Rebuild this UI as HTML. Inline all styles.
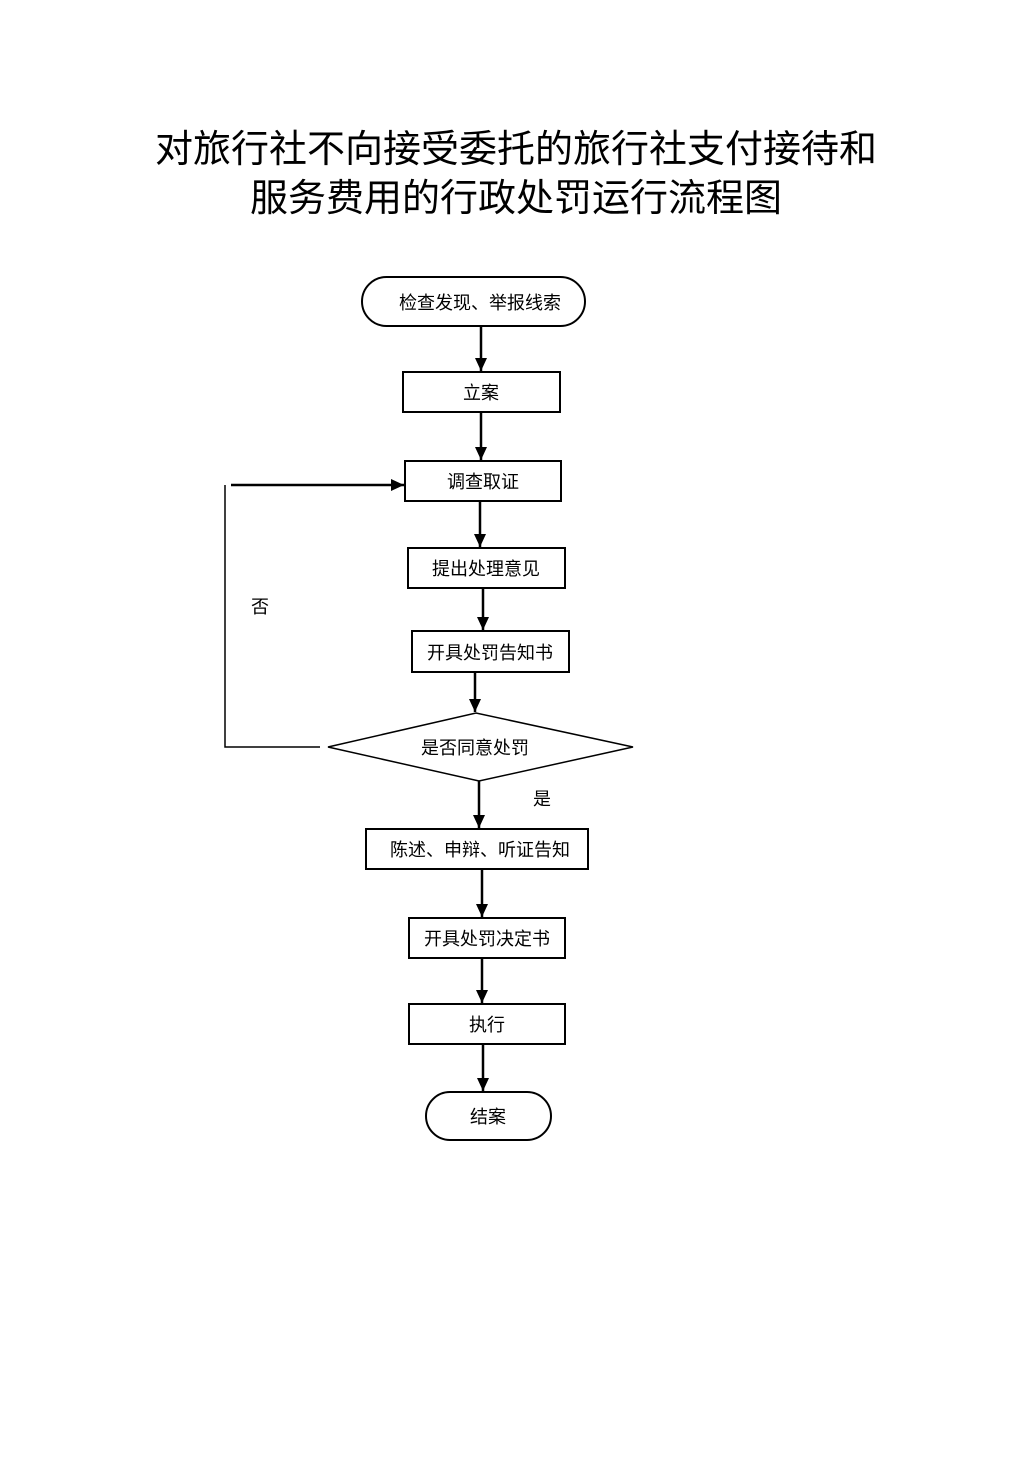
<!DOCTYPE html>
<html><head><meta charset="utf-8"><style>
html,body{margin:0;padding:0;background:#fff;}
svg{display:block;}
text{font-family:"Liberation Sans","Noto Sans CJK SC",sans-serif;fill:#000;}
</style></head><body>
<svg width="1033" height="1460" viewBox="0 0 1033 1460" xmlns="http://www.w3.org/2000/svg">
<defs>
<marker id="b" markerWidth="14" markerHeight="14" refX="13" refY="6" orient="auto" markerUnits="userSpaceOnUse"><path d="M0,0 L13,6 L0,12 z" fill="#000"/></marker></defs>
<text x="516" y="162" font-size="38" text-anchor="middle">对旅行社不向接受委托的旅行社支付接待和</text>
<text x="516" y="211" font-size="38" text-anchor="middle">服务费用的行政处罚运行流程图</text>
<g fill="none" stroke="#000" stroke-width="2">
<rect x="362" y="277" width="223" height="49" rx="24.5"/>
<rect x="403" y="372" width="157" height="40"/>
<rect x="405" y="461" width="156" height="40"/>
<rect x="408" y="548" width="157" height="40"/>
<rect x="412" y="631" width="157" height="41"/>
<polygon points="328,747 476,713 633,747 479,781" stroke-width="1.5"/>
<rect x="366" y="829" width="222" height="40"/>
<rect x="409" y="918" width="156" height="40"/>
<rect x="409" y="1004" width="156" height="40"/>
<rect x="426" y="1092" width="125" height="48" rx="24"/>
<g stroke-width="2.5">
<line x1="481" y1="326" x2="481" y2="371" marker-end="url(#b)"/>
<line x1="481" y1="412" x2="481" y2="460" marker-end="url(#b)"/>
<line x1="480" y1="501" x2="480" y2="547" marker-end="url(#b)"/>
<line x1="483" y1="588" x2="483" y2="630" marker-end="url(#b)"/>
<line x1="475" y1="672" x2="475" y2="712" marker-end="url(#b)"/>
<line x1="479" y1="781" x2="479" y2="828" marker-end="url(#b)"/>
<line x1="482" y1="869" x2="482" y2="917" marker-end="url(#b)"/>
<line x1="482" y1="958" x2="482" y2="1003" marker-end="url(#b)"/>
<line x1="483" y1="1044" x2="483" y2="1091" marker-end="url(#b)"/>
<line x1="231" y1="485" x2="404" y2="485" marker-end="url(#b)"/>
</g>
<polyline points="320,747 225,747 225,485" stroke-width="1.5"/>
</g>
<g font-size="18" text-anchor="middle">
<text x="480" y="309">检查发现、举报线索</text>
<text x="481" y="399">立案</text>
<text x="483" y="488">调查取证</text>
<text x="486" y="575">提出处理意见</text>
<text x="490" y="659">开具处罚告知书</text>
<text x="475" y="754">是否同意处罚</text>
<text x="480" y="856">陈述、申辩、听证告知</text>
<text x="487" y="945">开具处罚决定书</text>
<text x="487" y="1031">执行</text>
<text x="488" y="1123">结案</text>
<text x="542" y="805">是</text>
<text x="260" y="613">否</text>
</g>
</svg>
</body></html>
